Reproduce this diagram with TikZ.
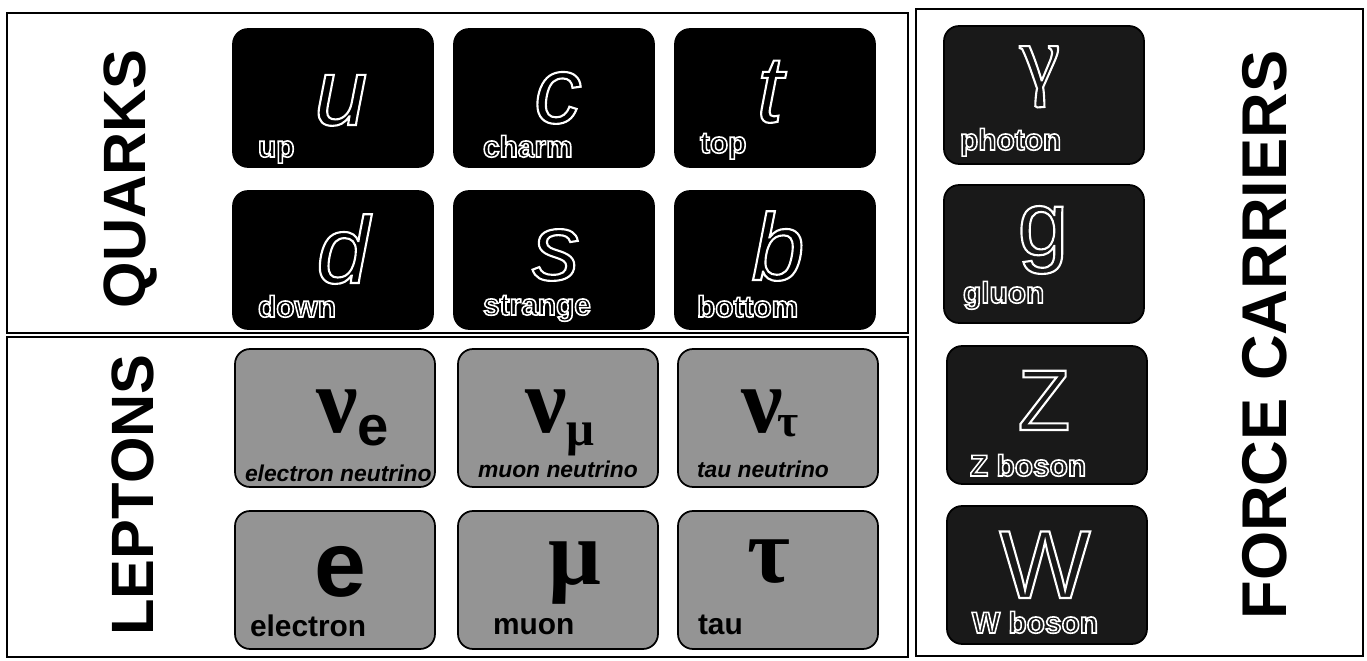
\documentclass[tikz,border=0pt]{standalone}
\usepackage{fontspec}
\setmainfont{Liberation Sans}
\newfontfamily\greekfont{Liberation Serif}
\usetikzlibrary{positioning}

% white outline round dark glyphs (fill + stroke render mode)
\newcommand{\hollowtext}[2][1.2]{\special{pdf:literal direct 2 Tr 1 1 1 RG #1 w}#2\special{pdf:literal direct 0 Tr 0 0 0 RG}}

\begin{document}
\begin{tikzpicture}[x=0.02cm, y=-0.02cm,
    every node/.style={inner sep=0pt, outer sep=0pt},
    card/.style={draw=black, line width=1pt, rounded corners=0.3cm, minimum width=4cm, minimum height=2.76cm},
    quark/.style={card, fill=black},
    lepton/.style={card, fill=black!42},
    carrier/.style={card, fill=black!90},
    heading/.style={font=\bfseries\fontsize{34}{34}\selectfont, rotate=90},
    qsym/.style={anchor=base, font=\itshape\fontsize{54}{54}\selectfont},
    csym/.style={anchor=base, text=black!90, font=\fontsize{52}{52}\selectfont},
    lsym/.style={anchor=base, font=\greekfont\bfseries\fontsize{53}{53}\selectfont},
    darklabel/.style={anchor=base west, font=\bfseries\fontsize{17}{17}\selectfont},
    lightlabel/.style={anchor=base west, font=\bfseries\fontsize{17}{17}\selectfont},
    nulabel/.style={anchor=base west, font=\bfseries\itshape\fontsize{13}{13}\selectfont}
  ]
  \fill[white] (0,0) rectangle (1367,661);
  \useasboundingbox (0,0) rectangle (1367,661);

  % frames
  \draw[line width=1pt] (7,13) rectangle (908,333);
  \draw[line width=1pt] (7,337) rectangle (908,657);
  \draw[line width=1pt] (916,9) rectangle (1363,656);

  \node[heading] (quarks) at (131,179) {QUARKS};
  \node[heading] (leptons) at (133,495) {LEPTONS};
  \node[heading, font=\bfseries\fontsize{36}{36}\selectfont] (carriers) at (1265,335) {FORCE CARRIERS};

  % quarks
  \node[quark] (up) at (333,98) {};
  \node[quark] (charm) at (554,98) {};
  \node[quark] (top) at (775,98) {};
  \node[quark] (down) at (333,260) {};
  \node[quark] (strange) at (554,260) {};
  \node[quark] (bottom) at (775,260) {};

  \node[qsym] (u) at (341,125) {\hollowtext{u}};
  \node[qsym] (c) at (558,123) {\hollowtext{c}};
  \node[qsym] (t) at (770,122) {\hollowtext{t}};
  \node[qsym] (d) at (343,283) {\hollowtext{d}};
  \node[qsym] (s) at (556,280) {\hollowtext{s}};
  \node[qsym] (b) at (778,280) {\hollowtext{b}};

  \node[darklabel] (up-txt) at (258,157) {\hollowtext[0.9]{up}};
  \node[darklabel] (charm-txt) at (483,157) {\hollowtext[0.9]{charm}};
  \node[darklabel] (top-txt) at (700,153) {\hollowtext[0.9]{top}};
  \node[darklabel] (down-txt) at (258,317) {\hollowtext[0.9]{down}};
  \node[darklabel] (strange-txt) at (483,315) {\hollowtext[0.9]{strange}};
  \node[darklabel] (bottom-txt) at (697,317) {\hollowtext[0.9]{bottom}};

  % leptons
  \node[lepton] (nu-e) at (335,418) {};
  \node[lepton] (nu-mu) at (558,418) {};
  \node[lepton] (nu-tau) at (778,418) {};
  \node[lepton] (electron) at (335,580) {};
  \node[lepton] (muon) at (558,580) {};
  \node[lepton] (tau) at (778,580) {};

  \node[lsym, anchor=base west] (nue) at (316,433) {ν\raisebox{-7pt}{\normalfont\bfseries\fontsize{32}{32}\selectfont e}};
  \node[lsym, anchor=base west] (numu) at (525,433) {ν\raisebox{-7pt}{\fontsize{28}{28}\selectfont μ}};
  \node[lsym, anchor=base west] (nutau) at (741,433) {ν\kern-3pt\raisebox{-2pt}{\fontsize{26}{26}\selectfont τ}};
  \node[lsym, font=\bfseries\fontsize{53}{53}\selectfont] (e) at (340,597) {e};
  \node[lsym] (mu) at (575,585) {μ};
  \node[lsym] (ta) at (769,583) {τ};

  \node[nulabel] (nue-txt) at (245,482) {electron neutrino};
  \node[nulabel] (numu-txt) at (478,478) {muon neutrino};
  \node[nulabel] (nutau-txt) at (697,478) {tau neutrino};
  \node[lightlabel] (electron-txt) at (250,637) {electron};
  \node[lightlabel] (muon-txt) at (493,635) {muon};
  \node[lightlabel] (tau-txt) at (698,635) {tau};

  % force carriers
  \node[carrier] (photon) at (1044,95) {};
  \node[carrier] (gluon) at (1044,254) {};
  \node[carrier] (zboson) at (1047,415) {};
  \node[carrier] (wboson) at (1047,575) {};

  \node[csym, font=\greekfont\fontsize{52}{52}\selectfont] (gamma) at (1040,88) {\hollowtext{γ}};
  \node[csym] (g) at (1043,255) {\hollowtext{g}};
  \node[csym, font=\fontsize{49}{49}\selectfont] (z) at (1044,430) {\hollowtext{Z}};
  \node[csym, font=\fontsize{55}{55}\selectfont] (w) at (1045,598) {\hollowtext{W}};

  \node[darklabel, text=black!90] (photon-txt) at (960,150) {\hollowtext[0.9]{photon}};
  \node[darklabel, text=black!90] (gluon-txt) at (963,303) {\hollowtext[0.9]{gluon}};
  \node[darklabel, text=black!90] (zboson-txt) at (970,476) {\hollowtext[0.9]{Z boson}};
  \node[darklabel, text=black!90] (wboson-txt) at (972,633) {\hollowtext[0.9]{W boson}};
\end{tikzpicture}
\end{document}
